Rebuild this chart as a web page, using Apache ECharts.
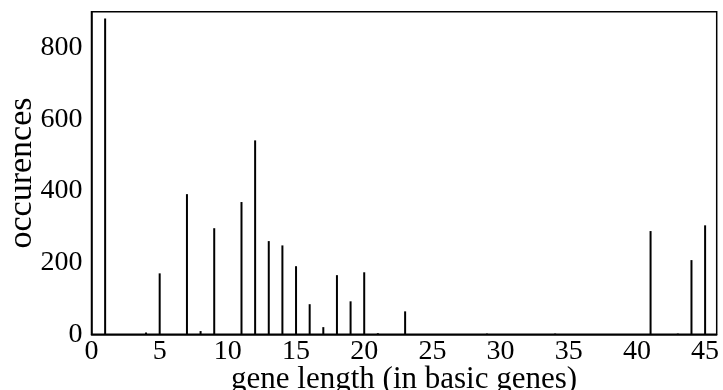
<!DOCTYPE html>
<html>
<head>
<meta charset="utf-8">
<script src="https://cdn.jsdelivr.net/npm/echarts@6/dist/echarts.min.js"></script>
<style>
  html, body { margin: 0; padding: 0; background: #fff; }
  #chart { width: 723px; height: 390px; }
</style>
</head>
<body>
<div id="chart"></div>
<script>
// gene length (x) and number of occurences (y)
const geneLengths = [1, 4, 5, 7, 8, 9, 11, 12, 13, 14, 15, 16, 17, 18, 19, 20, 21, 23, 29, 34, 41, 43, 44, 45]
const occurences = [881, 5, 170, 391, 9, 296, 369, 541, 260, 248, 190, 84, 20, 165, 92, 173, 3, 64, 2, 2, 288, 2, 207, 304]

const serif = '"Liberation Serif", "DejaVu Serif", serif'

let myChart = echarts.init(document.getElementById('chart'))
let option = {
  animation: false,
  grid: {
    left: 91.5,
    right: 6.3,
    top: 11.7,
    bottom: 55.7,
    containLabel: false,
    outerBoundsMode: 'none',
    show: true,
    borderColor: '#000',
    borderWidth: 1.5,
    backgroundColor: 'transparent'
  },
  xAxis: {
    type: 'value',
    min: 0,
    max: 45.85,
    interval: 5,
    name: 'gene length (in basic genes)',
    nameLocation: 'middle',
    nameMoveOverlap: false,
    nameGap: 30,
    nameTextStyle: { fontFamily: serif, fontSize: 31, color: '#000' },
    axisLine: { show: true, onZero: false, lineStyle: { color: '#000', width: 1.5 } },
    axisTick: { show: false },
    splitLine: { show: false },
    axisLabel: {
      margin: 3,
      fontFamily: serif,
      fontSize: 28,
      color: '#000',
      formatter: v => (v % 5 === 0 ? String(v) : '')
    }
  },
  yAxis: {
    type: 'value',
    min: 0,
    max: 900,
    interval: 100,
    name: 'occurences',
    nameLocation: 'middle',
    nameMoveOverlap: false,
    nameGap: 52,
    nameTextStyle: { fontFamily: serif, fontSize: 34, color: '#000' },
    axisLine: { show: true, lineStyle: { color: '#000', width: 1.5 } },
    axisTick: { show: false },
    splitLine: { show: false },
    axisLabel: {
      margin: 9,
      fontFamily: serif,
      fontSize: 28,
      color: '#000',
      formatter: v => (v % 200 === 0 ? String(v) : '')
    }
  },
  series: [{
    type: 'bar',
    barWidth: 2,
    itemStyle: { color: '#000' },
    data: geneLengths.map((g, i) => [g, occurences[i]])
  }]
}
myChart.setOption(option)
</script>
</body>
</html>
